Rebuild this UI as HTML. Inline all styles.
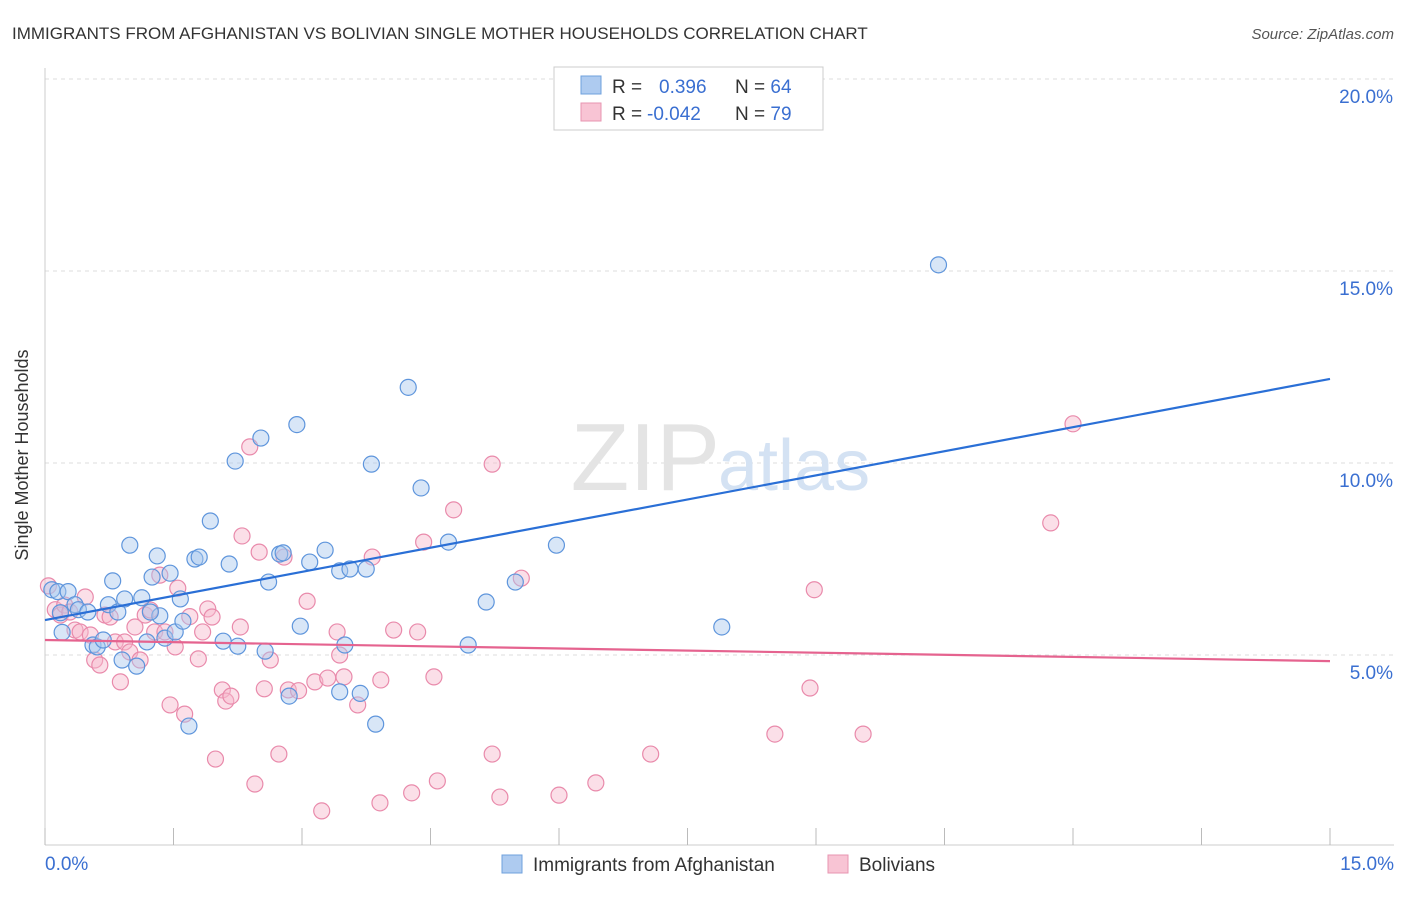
<!DOCTYPE html>
<html><head><meta charset="utf-8"><style>
body{margin:0;background:#fff;font-family:"Liberation Sans",sans-serif;}
svg text{font-family:"Liberation Sans",sans-serif;}
</style></head><body>
<svg width="1406" height="892" viewBox="0 0 1406 892" xmlns="http://www.w3.org/2000/svg">
<text x="12" y="39" font-size="17" fill="#333">IMMIGRANTS FROM AFGHANISTAN VS BOLIVIAN SINGLE MOTHER HOUSEHOLDS CORRELATION CHART</text>
<text x="1394" y="39" font-size="15" fill="#555" font-style="italic" text-anchor="end">Source: ZipAtlas.com</text>
<g id="grid"></g>
<text x="720" y="490" font-size="96" fill="#e4e4e4" text-anchor="end" font-family="Liberation Serif">ZIP</text>
<text x="718" y="490" font-size="72" fill="#d4e2f3">atlas</text>
<g id="axes"></g>
<g id="pts"></g>
<g id="lines"></g>
<text x="28" y="455" font-size="18" fill="#333" text-anchor="middle" transform="rotate(-90 28 455)">Single Mother Households</text>
<g>
<rect x="554" y="67" width="269" height="63" fill="#fff" stroke="#ccc"/>
<rect x="581" y="76" width="20" height="18" fill="#aecbf0" stroke="#6fa0dd"/>
<rect x="581" y="103" width="20" height="18" fill="#f8c4d4" stroke="#e795b1"/>
<text x="612" y="93" font-size="19" fill="#333">R = <tspan fill="#3a6fd1" x="659">0.396</tspan><tspan x="735" fill="#333">N = </tspan><tspan fill="#3a6fd1">64</tspan></text>
<text x="612" y="120" font-size="19" fill="#333">R = <tspan fill="#3a6fd1" x="647">-0.042</tspan><tspan x="735" fill="#333">N = </tspan><tspan fill="#3a6fd1">79</tspan></text>
</g>
<g>
<rect x="502" y="855" width="20" height="18" fill="#aecbf0" stroke="#6fa0dd"/>
<text x="533" y="871" font-size="19" fill="#333">Immigrants from Afghanistan</text>
<rect x="828" y="855" width="20" height="18" fill="#f8c4d4" stroke="#e795b1"/>
<text x="859" y="871" font-size="19" fill="#333">Bolivians</text>
</g>
</svg>
<script>
const NS="http://www.w3.org/2000/svg";
const yTicks=[5,10,15,20];
const yTickLabels=["5.0%","10.0%","15.0%","20.0%"];
const xTickLabels=["0.0%","15.0%"];
const blueX=[0.08,0.15,0.2,0.27,0.35,0.39,0.5,0.56,0.61,0.68,0.74,0.79,0.85,0.9,0.93,0.99,1.07,1.13,1.19,1.25,1.31,1.34,1.4,1.46,1.52,1.58,1.61,1.68,1.75,1.8,1.93,2.08,2.15,2.22,2.25,2.52,2.57,2.61,2.74,2.78,2.85,2.94,2.98,3.09,3.27,3.44,3.5,3.56,3.68,3.75,3.81,3.86,4.24,4.39,4.71,4.94,5.15,5.49,5.97,7.9,10.43,3.44,1.23,0.18];
const blueY=[6.7,6.65,5.59,6.65,6.31,6.18,6.12,5.26,5.21,5.39,6.31,6.93,6.12,4.87,6.46,7.86,4.71,6.49,5.34,7.03,7.58,6.02,5.44,7.13,5.6,6.46,5.88,3.15,7.5,7.55,8.49,5.36,7.37,10.05,5.23,10.65,5.1,6.9,7.63,7.66,3.93,11.0,5.75,7.42,7.73,7.19,5.26,7.24,4.0,7.24,9.97,3.2,11.97,9.35,7.94,5.26,6.38,6.9,7.86,5.73,15.16,4.04,6.12,6.1];
const pinkX=[0.04,0.12,0.18,0.23,0.29,0.35,0.41,0.47,0.53,0.58,0.64,0.7,0.76,0.82,0.88,0.93,0.99,1.05,1.11,1.17,1.23,1.28,1.34,1.4,1.46,1.52,1.55,1.63,1.69,1.79,1.84,1.9,1.95,1.99,2.07,2.11,2.17,2.28,2.3,2.39,2.45,2.5,2.56,2.63,2.73,2.79,2.84,2.96,3.06,3.15,3.23,3.3,3.41,3.44,3.49,3.65,3.82,3.91,3.92,4.07,4.28,4.35,4.42,4.54,4.58,4.77,5.22,5.22,5.31,5.56,6.0,6.43,7.07,8.52,8.93,8.98,9.55,11.74,12.0];
const pinkY=[6.8,6.18,6.04,6.3,6.12,5.65,5.6,6.51,5.52,4.87,4.74,6.04,5.99,5.34,4.3,5.34,5.08,5.73,4.87,6.04,6.17,5.6,7.08,5.6,3.7,5.21,6.74,3.46,6.0,4.9,5.6,6.2,5.99,2.29,4.09,3.8,3.93,5.73,8.1,10.42,1.64,7.68,4.12,4.87,2.42,7.55,4.09,4.07,6.4,4.3,0.94,4.4,5.6,5.0,4.43,3.7,7.55,1.15,4.35,5.65,1.41,5.6,7.94,4.43,1.72,8.78,9.97,2.42,1.3,7.0,1.35,1.67,2.42,2.94,4.14,6.7,2.94,8.44,11.02];
const blueLine=[[0,5.91],[15,12.19]];
const pinkLine=[[0,5.39],[15,4.84]];
const X=v=>45+v*(1285/15);
const Y=v=>847-v*38.4;
function mk(tag,attrs,parent){const e=document.createElementNS(NS,tag);for(const k in attrs)e.setAttribute(k,attrs[k]);document.getElementById(parent).appendChild(e);return e;}
yTicks.forEach((t,i)=>{
 const l=mk("line",{x1:45,x2:1394,y1:Y(t),y2:Y(t),stroke:"#ddd","stroke-dasharray":"4,4"},"grid");
 
 
 const tx=mk("text",{x:1393,y:Y(t)+24,"font-size":19,fill:"#3a6fd1","text-anchor":"end"},"grid");
 tx.textContent=yTickLabels[i];
 
 
});
const ax=mk("line",{x1:45,x2:1394,y1:845,y2:845,stroke:"#ccc"},"axes");


const ay=mk("line",{x1:45,x2:45,y1:68,y2:845,stroke:"#ccc"},"axes");


for(let i=0;i<=10;i++){
 const t=mk("line",{x1:X(i*1.5),x2:X(i*1.5),y1:828,y2:845,stroke:"#bbb"},"axes");
 
 
}
[[0,"start",45],[1,"end",1394]].forEach(([i,a,x])=>{
 const t=mk("text",{x:x,y:870,"font-size":19,fill:"#3a6fd1","text-anchor":a},"axes");
 t.textContent=xTickLabels[i];
 
 
});
function pts(xs,ys,fill,stroke,name){
 xs.forEach((x,i)=>{
  const c=mk("circle",{cx:X(x),cy:Y(ys[i]),r:8,fill:fill,"fill-opacity":0.45,stroke:stroke,"stroke-width":1.2},"pts");
  
  
 });
}
pts(pinkX,pinkY,"#f6b8cb","#e98aab","point-bolivians");
pts(blueX,blueY,"#a9c7ee","#5e95dc","point-afghanistan");
const bl=mk("line",{x1:X(blueLine[0][0]),y1:Y(blueLine[0][1]),x2:X(blueLine[1][0]),y2:Y(blueLine[1][1]),stroke:"#2a6fd6","stroke-width":2.2},"lines");


const pl=mk("line",{x1:X(pinkLine[0][0]),y1:Y(pinkLine[0][1]),x2:X(pinkLine[1][0]),y2:Y(pinkLine[1][1]),stroke:"#e5638f","stroke-width":2.2},"lines");


</script>
</body></html>
